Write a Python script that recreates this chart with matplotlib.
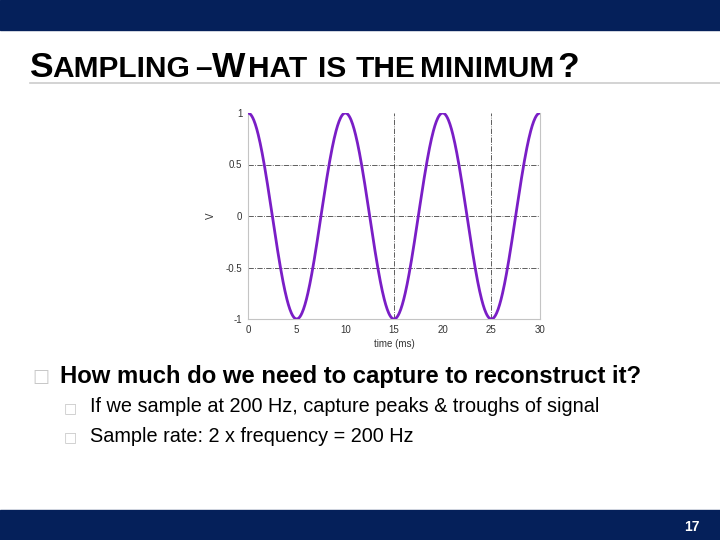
import numpy as np
import matplotlib.pyplot as plt
from matplotlib.patches import Rectangle
from matplotlib.lines import Line2D

# signal shown on the slide: 100 Hz cosine, 1 V amplitude, 30 ms window
FREQUENCY_HZ = 100
AMPLITUDE = 1.0
DURATION_MS = 30
time_ms = np.linspace(0, DURATION_MS, 601)
volts = AMPLITUDE * np.cos(2 * np.pi * FREQUENCY_HZ * time_ms / 1000)

x_ticks = [0, 5, 10, 15, 20, 25, 30]
y_ticks = [-1, -0.5, 0, 0.5, 1]
y_tick_labels = ['-1', '-0.5', '0', '0.5', '1']
sample_lines_ms = [15, 25]
grid_levels = [-0.5, 0, 0.5]

# small-caps title, one piece per word; True = full-size capital
title_words = ['S', 'AMPLING', '\u2013', 'W', 'HAT', 'IS', 'THE', 'MINIMUM', '?']
title_big = [True, False, False, True, False, False, False, False, True]
main_bullet = 'How much do we need to capture to reconstruct it?'
sub_bullets = ['If we sample at 200 Hz, capture peaks & troughs of signal',
               'Sample rate: 2 x frequency = 200 Hz']
page_number = '17'

W, H = 720, 540
navy = '#05205a'
fig = plt.figure(figsize=(7.2, 5.4), dpi=100)
plt.rcParams['font.family'] = ['Liberation Sans', 'DejaVu Sans']

# banners
fig.patches.append(Rectangle((0, 1 - 30 / H), 1, 30 / H, transform=fig.transFigure,
                             color=navy, zorder=0))
fig.patches.append(Rectangle((0, 0), 1, 30 / H, transform=fig.transFigure,
                             color=navy, zorder=0))
fig.text(700 / W, 1 - 527 / H, page_number, color='white', fontsize=10,
         fontweight='bold', ha='right', va='center')

# title line + title
fig.lines.append(Line2D([30 / W, 1], [1 - 82.5 / H] * 2, transform=fig.transFigure,
                        color='#cccccc', lw=1.2, zorder=0))
word_x = [29, 52, 195, 212, 248, 318, 356, 420, 557]
for txt, big, x in zip(title_words, title_big, word_x):
    fig.text(x / W, 1 - 77 / H, txt, fontsize=25.5 if big else 21.5, ha='left',
             va='baseline', color='black', fontweight='bold')

# bullets
box_color = '#c8c8c8'
fig.text(32 / W, 1 - 377 / H, '\u25a1', fontsize=13, color=box_color,
         family='DejaVu Sans', ha='left', va='center')
fig.text(60 / W, 1 - 376 / H, main_bullet, fontsize=17.2, fontweight='bold',
         ha='left', va='center')
for i, line in enumerate(sub_bullets):
    y = 407 + 29 * i
    fig.text(64 / W, 1 - (y + 1) / H, '\u25a1', fontsize=10, color=box_color,
             family='DejaVu Sans', ha='left', va='center')
    fig.text(90 / W, 1 - y / H, line, fontsize=14.3, ha='left', va='center')

# chart
ax = fig.add_axes([248 / W, 1 - 319 / H, (540 - 248) / W, (319 - 113) / H])
ax.plot(time_ms, volts, color='#7a1ec6', lw=2.0, zorder=3)
for lvl in grid_levels:
    ax.axhline(lvl, color='#444444', lw=0.6, ls='-.', zorder=1)
for t in sample_lines_ms:
    ax.axvline(t, color='#444444', lw=0.6, ls='-.', zorder=1)
ax.set_xlim(0, DURATION_MS)
ax.set_ylim(-1, 1)
ax.set_xticks(x_ticks)
ax.set_xticklabels([str(v) for v in x_ticks])
ax.set_yticks(y_ticks)
ax.set_yticklabels(y_tick_labels)
ax.tick_params(length=0, labelsize=7, colors='#333333', pad=4)
ax.spines['top'].set_visible(False)
for s in ('left', 'right', 'bottom'):
    ax.spines[s].set_color('#c4c4c4')
    ax.spines[s].set_linewidth(0.8)
ax.set_xlabel('time (ms)', fontsize=7, color='#333333', labelpad=3)
ax.set_ylabel('V', fontsize=7, color='#333333', labelpad=7)

fig.savefig('out.png', dpi=100)
